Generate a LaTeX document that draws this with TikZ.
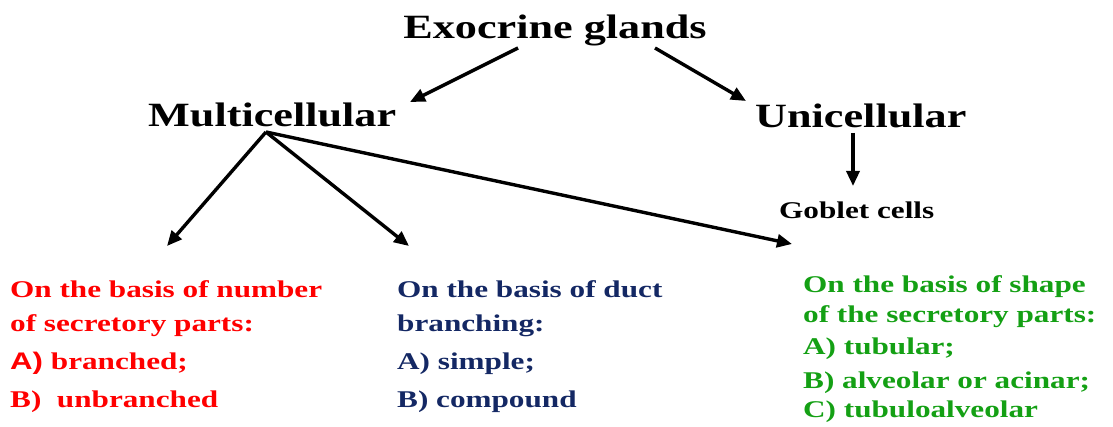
\documentclass[tikz,border=0pt]{standalone}
\usepackage{fontspec}
\setmainfont{Liberation Serif}[FakeStretch=1.3]
\newfontfamily\labelsans{Liberation Sans}[FakeStretch=1.3]
\usetikzlibrary{arrows.meta}
\definecolor{basisred}{RGB}{255,0,0}
\definecolor{basisblue}{RGB}{20,40,100}
\definecolor{basisgreen}{RGB}{20,160,20}
\tikzset{
  head/.style={anchor=base, inner sep=0pt, font=\bfseries\fontsize{34}{40}\selectfont},
  sub/.style={anchor=base west, inner sep=0pt, font=\bfseries\fontsize{24}{28}\selectfont},
  link/.style={line width=3.4pt, -{Triangle[length=15pt,width=13pt]}},
}
\begin{document}
\begin{tikzpicture}[x=1pt,y=-1pt]
  \useasboundingbox (0,0) rectangle (1113,427);

  % headings
  \node[head] (exo) at (555,39) {Exocrine glands};
  \node[head, anchor=base west] (multi) at (148,127) {Multicellular};
  \node[head, anchor=base west] (uni) at (755,128) {Unicellular};
  \node[sub] (goblet) at (779,219) {Goblet cells};

  % classification blocks
  \node[sub, text=basisred] (num1) at (10,298) {On the basis of number};
  \node[sub, text=basisred] (num2) at (10,332) {of secretory parts:};
  \node[sub, text=basisred] (num3) at (10,370) {{\labelsans A)} branched;};
  \node[sub, text=basisred] (num4) at (10,407) {B)\ \ unbranched};

  \node[sub, text=basisblue] (duct1) at (397,298) {On the basis of duct};
  \node[sub, text=basisblue] (duct2) at (397,331) {branching:};
  \node[sub, text=basisblue] (duct3) at (397,370) {A) simple;};
  \node[sub, text=basisblue] (duct4) at (397,407) {B) compound};

  \node[sub, text=basisgreen] (shape1) at (803,293) {On the basis of shape};
  \node[sub, text=basisgreen] (shape2) at (803,323) {of the secretory parts:};
  \node[sub, text=basisgreen] (shape3) at (803,355) {A) tubular;};
  \node[sub, text=basisgreen] (shape4) at (803,388) {B)\ alveolar or acinar;};
  \node[sub, text=basisgreen] (shape5) at (803,417) {C) tubuloalveolar};

  % connector end points
  \coordinate (exoL) at (518,48);
  \coordinate (exoR) at (655,48);
  \coordinate (multiIn) at (410,102);
  \coordinate (uniIn) at (746,101);
  \coordinate (uniOut) at (853,133);
  \coordinate (gobletIn) at (853,186);
  \coordinate (fork) at (266,132);
  \coordinate (numIn) at (167,246);
  \coordinate (ductIn) at (409,246);
  \coordinate (shapeIn) at (792,244);

  % connectors
  \draw[link] (exoL) -- (multiIn);
  \draw[link] (exoR) -- (uniIn);
  \draw[link] (uniOut) -- (gobletIn);
  \draw[link] (fork) -- (numIn);
  \draw[link] (fork) -- (ductIn);
  \draw[link] (fork) -- (shapeIn);
\end{tikzpicture}
\end{document}
